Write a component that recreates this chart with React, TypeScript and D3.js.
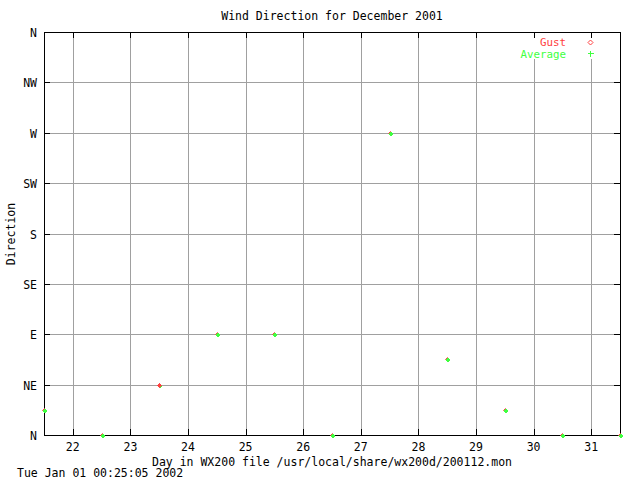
import React from "react";
import * as d3 from "d3";

const title = "Wind Direction for December 2001";
const xLabel = "Day in WX200 file /usr/local/share/wx200d/200112.mon";
const yLabel = "Direction";
const timestamp = "Tue Jan 01 00:25:05 2002";
const xTicks = [22, 23, 24, 25, 26, 27, 28, 29, 30, 31];
const yTickValues = [0, 45, 90, 135, 180, 225, 270, 315, 360];
const yTickLabels = ["N", "NE", "E", "SE", "S", "SW", "W", "NW", "N"];
const days = [21.5, 22.5, 23.5, 24.5, 25.5, 26.5, 27.5, 28.5, 29.5, 30.5, 31.5];
const gust = [22.5, 0, 45, 90, 90, 0, 270, 67.5, 22.5, 0, 0];
const average = [22.5, 0, 45, 90, 90, 0, 270, 67.5, 22.5, 0, 0];
const gustOnTopDays = [23.5];

const W = 640, H = 480;
const L = 44, R = 620, T = 32, B = 435;
const FONT = "'DejaVu Sans Mono', monospace";
const FS = 11.5;
const RED = "#ff4040";
const GREEN = "#40ff40";

export default function App() {
  const x = d3.scaleLinear().domain([21.5, 31.5]).range([L, R]);
  const y = d3.scaleLinear().domain([0, 360]).range([B, T]);
  const legendBlank = { x0: 505, x1: 600, y0: 37, y1: 59 };
  const diamond = (cx: number, cy: number, r: number) =>
    `M${cx},${cy - r}L${cx + r},${cy}L${cx},${cy + r}L${cx - r},${cy}Z`;
  const plus = (cx: number, cy: number, r: number) =>
    `M${cx - r},${cy}H${cx + r}M${cx},${cy - r}V${cy + r}`;
  const px = (d: number) => Math.round(x(d)) + 0.5;
  const py = (v: number) => Math.round(y(v)) + 0.5;
  return (
    <svg width={W} height={H} style={{ position: "absolute", left: 0, top: 0, background: "#fff" }}>
      <rect x={0} y={0} width={W} height={H} fill="#fff" />
      {/* grid */}
      {xTicks.map((t) => {
        const gx = px(t);
        const inLegend = gx > legendBlank.x0 && gx < legendBlank.x1;
        return (
          <g key={"gx" + t} shapeRendering="crispEdges">
            <line x1={gx} x2={gx} y1={B} y2={inLegend ? legendBlank.y1 : T} stroke="#a0a0a0" />
            <line x1={gx} x2={gx} y1={B} y2={B - 6} stroke="#000" />
            <line x1={gx} x2={gx} y1={T} y2={T + 6} stroke="#000" />
            <text x={x(t)} y={451} textAnchor="middle" fontFamily={FONT} fontSize={FS}>{t}</text>
          </g>
        );
      })}
      {yTickValues.map((v, i) => {
        const gy = py(v);
        return (
          <g key={"gy" + i} shapeRendering="crispEdges">
            {v > 0 && v < 360 && (
              <line x1={L} x2={R} y1={gy} y2={gy} stroke="#a0a0a0" />
            )}
            <line x1={L} x2={L + 6} y1={gy} y2={gy} stroke="#000" />
            <line x1={R} x2={R - 6} y1={gy} y2={gy} stroke="#000" />
            <text x={37} y={gy + 4} textAnchor="end" fontFamily={FONT} fontSize={FS}>{yTickLabels[i]}</text>
          </g>
        );
      })}
      {/* border */}
      <rect x={L + 0.5} y={T + 0.5} width={R - L} height={B - T} fill="none" stroke="#000" shapeRendering="crispEdges" />
      {/* points */}
      {days.map((d, i) => (
        <path key={"g" + i} d={diamond(px(d), py(gust[i]), 2)} fill="none" stroke={RED} />
      ))}
      {days.map((d, i) => (
        <path key={"a" + i} d={plus(px(d), py(average[i]), 2)} fill="none" stroke={GREEN} strokeWidth={2} shapeRendering="crispEdges" />
      ))}
      {days.map((d, i) =>
        gustOnTopDays.includes(d) ? (
          <path key={"gt" + i} d={diamond(px(d), py(gust[i]), 2)} fill={RED} stroke={RED} />
        ) : null
      )}
      {/* legend */}
      <text x={566} y={45.5} textAnchor="end" fontFamily={FONT} fontSize={10.8} fill={RED}>Gust</text>
      <path d={diamond(590.5, 42.5, 2.5)} fill="none" stroke={RED} />
      <text x={566} y={57.5} textAnchor="end" fontFamily={FONT} fontSize={10.8} fill={GREEN}>Average</text>
      <path d={plus(590.5, 53.5, 3)} fill="none" stroke={GREEN} shapeRendering="crispEdges" />
      {/* labels */}
      <text x={332} y={20} textAnchor="middle" fontFamily={FONT} fontSize={FS}>{title}</text>
      <text x={332} y={466} textAnchor="middle" fontFamily={FONT} fontSize={FS}>{xLabel}</text>
      <text x={17} y={477} fontFamily={FONT} fontSize={FS}>{timestamp}</text>
      <text transform="translate(15,234) rotate(-90)" textAnchor="middle" fontFamily={FONT} fontSize={FS}>{yLabel}</text>
    </svg>
  );
}
